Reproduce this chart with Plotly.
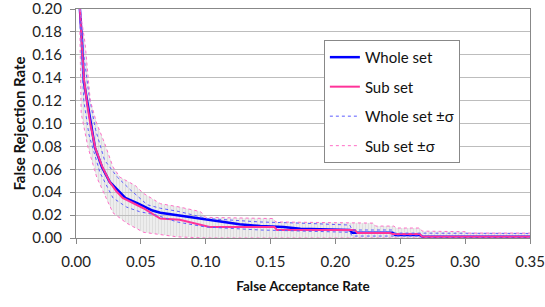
import plotly.graph_objects as go

# ---- data (FAR, FRR) ----
whole_x = [0.003, 0.0046, 0.006, 0.0085, 0.011, 0.0146, 0.020, 0.026, 0.032, 0.038, 0.048,
           0.059, 0.065, 0.078, 0.090, 0.101, 0.115, 0.126, 0.142, 0.160, 0.173, 0.211,
           0.213, 0.244, 0.246, 0.265, 0.267, 0.350]
whole_y = [0.200, 0.172, 0.137, 0.120, 0.103, 0.079, 0.062, 0.049, 0.042, 0.035, 0.030,
           0.024, 0.022, 0.020, 0.018, 0.016, 0.014, 0.012, 0.0105, 0.0095, 0.008, 0.007,
           0.0045, 0.0045, 0.0026, 0.0026, 0.001, 0.001]

sub_x = [0.003, 0.0045, 0.006, 0.0085, 0.011, 0.015, 0.020, 0.026, 0.031, 0.036, 0.045,
         0.052, 0.059, 0.065, 0.080, 0.100, 0.103, 0.153, 0.155, 0.215, 0.217, 0.242,
         0.244, 0.265, 0.267, 0.350]
sub_y = [0.200, 0.170, 0.140, 0.118, 0.100, 0.078, 0.063, 0.049, 0.041, 0.035, 0.030,
         0.026, 0.021, 0.017, 0.016, 0.011, 0.0096, 0.0096, 0.007, 0.007, 0.0043, 0.0043,
         0.0035, 0.0035, 0.001, 0.001]

whole_up_x = [0.003, 0.006, 0.010, 0.015, 0.022, 0.032, 0.042, 0.055, 0.065, 0.080, 0.101,
              0.142, 0.173, 0.211, 0.213, 0.244, 0.246, 0.350]
whole_up_y = [0.200, 0.160, 0.125, 0.095, 0.068, 0.053, 0.042, 0.029, 0.026, 0.023, 0.017,
              0.014, 0.013, 0.0113, 0.007, 0.007, 0.0043, 0.004]

whole_lo_x = [0.003, 0.006, 0.010, 0.0185, 0.0285, 0.039, 0.049, 0.062, 0.078, 0.100, 0.142,
              0.211, 0.213, 0.265, 0.267, 0.350]
whole_lo_y = [0.190, 0.120, 0.090, 0.057, 0.035, 0.027, 0.023, 0.020, 0.014, 0.0096, 0.007,
              0.005, 0.0017, 0.0017, 0.0, 0.0]

sub_up_x = [0.003, 0.007, 0.011, 0.016, 0.022, 0.0285, 0.034, 0.0455, 0.052, 0.065, 0.080,
            0.096, 0.100, 0.152, 0.154, 0.229, 0.231, 0.245, 0.247, 0.265, 0.267, 0.300,
            0.302, 0.350]
sub_up_y = [0.200, 0.170, 0.120, 0.100, 0.083, 0.062, 0.053, 0.046, 0.039, 0.030, 0.027,
            0.023, 0.018, 0.017, 0.014, 0.013, 0.0104, 0.0104, 0.0087, 0.0087, 0.006, 0.0055,
            0.0043, 0.0043]

sub_lo_x = [0.003, 0.004, 0.0093, 0.016, 0.024, 0.0285, 0.039, 0.052, 0.078, 0.100, 0.350]
sub_lo_y = [0.180, 0.109, 0.079, 0.053, 0.033, 0.022, 0.013, 0.005, 0.001, 0.0, 0.0]

x_ticks = [0.00, 0.05, 0.10, 0.15, 0.20, 0.25, 0.30, 0.35]
y_ticks = [0.00, 0.02, 0.04, 0.06, 0.08, 0.10, 0.12, 0.14, 0.16, 0.18, 0.20]

FONT = "Lato"
BLUE = "#0000FF"
PINK = "#FF3399"

fig = go.Figure()

# grey error-bar hatching between the sub-set ±σ bounds
fig.add_trace(go.Scatter(
    x=sub_up_x + sub_lo_x[::-1], y=sub_up_y + sub_lo_y[::-1],
    mode="lines", line=dict(width=0), fill="toself",
    fillcolor="rgba(255,255,255,0)",
    fillpattern=dict(shape="|", fgcolor="#bdbdbd", bgcolor="rgba(255,255,255,0)",
                     size=3, solidity=0.7),
    showlegend=False, hoverinfo="skip"))

fig.add_trace(go.Scatter(x=whole_x, y=whole_y, mode="lines", name="Whole set",
                         line=dict(color=BLUE, width=2.5), legendgroup="a"))
fig.add_trace(go.Scatter(x=sub_x, y=sub_y, mode="lines", name="Sub set",
                         line=dict(color=PINK, width=2), legendgroup="b"))
fig.add_trace(go.Scatter(x=whole_up_x, y=whole_up_y, mode="lines", name="Whole set ±σ",
                         line=dict(color="#5C5CFF", width=1, dash="dot"), legendgroup="c"))
fig.add_trace(go.Scatter(x=whole_lo_x, y=whole_lo_y, mode="lines", name="Whole set ±σ",
                         line=dict(color="#5C5CFF", width=1, dash="dot"), legendgroup="c",
                         showlegend=False))
fig.add_trace(go.Scatter(x=sub_up_x, y=sub_up_y, mode="lines", name="Sub set ±σ",
                         line=dict(color="#FF6EC7", width=1, dash="dot"), legendgroup="d"))
fig.add_trace(go.Scatter(x=sub_lo_x, y=sub_lo_y, mode="lines", name="Sub set ±σ",
                         line=dict(color="#FF6EC7", width=1, dash="dot"), legendgroup="d",
                         showlegend=False))

fig.update_layout(
    width=545, height=307,
    margin=dict(l=76, r=15, t=9, b=69),
    paper_bgcolor="white", plot_bgcolor="white",
    font=dict(family=FONT, size=15, color="#222222"),
    legend=dict(x=0.546, y=0.865, xanchor="left", yanchor="top",
                bgcolor="white", bordercolor="#888888", borderwidth=1,
                font=dict(family=FONT, size=15, color="#111111"),
                tracegroupgap=7, itemwidth=30),
    xaxis=dict(range=[0, 0.35], tickvals=x_ticks, tickformat=".2f", automargin=False,
               showgrid=False, zeroline=False, ticklabeloverflow="allow",
               ticklabelstandoff=5,
               showline=True, linecolor="#888888", linewidth=1, mirror=True,
               ticks="outside", ticklen=5, tickcolor="#888888",
               tickfont=dict(family=FONT, size=15, color="#222222"),
               title=dict(text="<b>False Acceptance Rate</b>", standoff=12,
                          font=dict(family=FONT, size=13.5, color="#111111"))),
    yaxis=dict(range=[0, 0.2], tickvals=y_ticks, tickformat=".2f", automargin=False,
               showgrid=True, gridcolor="#bdbdbd", gridwidth=1, zeroline=False,
               ticklabeloverflow="allow", ticklabelstandoff=5,
               showline=True, linecolor="#888888", linewidth=1, mirror=True,
               ticks="outside", ticklen=5, tickcolor="#888888",
               tickfont=dict(family=FONT, size=15, color="#222222"),
               title=dict(text="<b>False Rejection Rate</b>", standoff=3,
                          font=dict(family=FONT, size=15, color="#111111"))),
)

fig.write_html("out.html", config={"displayModeBar": False},
               post_script="document.body.style.margin='0';document.body.style.overflow='hidden';")
